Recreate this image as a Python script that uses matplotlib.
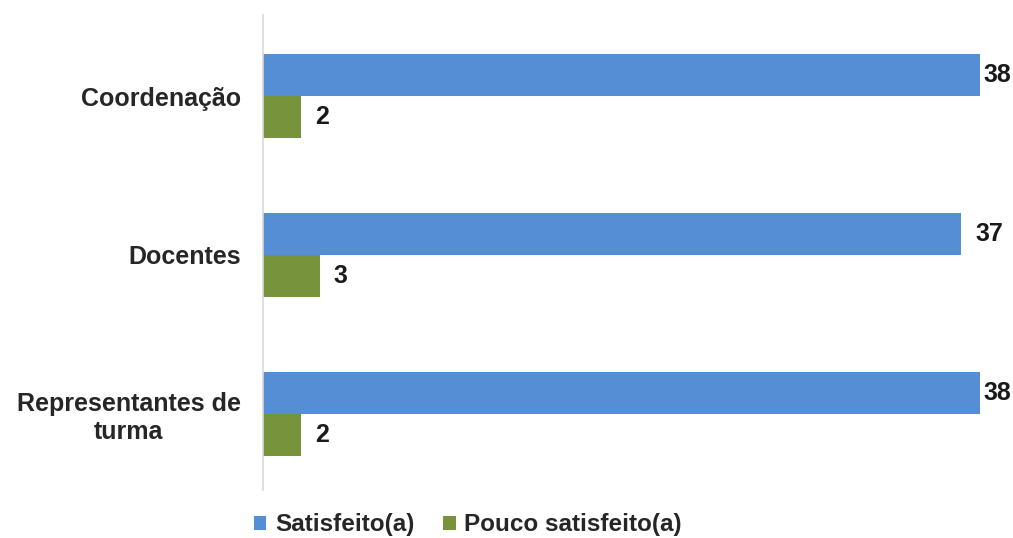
import matplotlib
matplotlib.use("Agg")
import matplotlib.pyplot as plt
import numpy as np

categorias = ["Coordenação", "Docentes", "Representantes de\nturma"]
satisfeito = [38, 37, 38]
pouco_satisfeito = [2, 3, 2]
series = ["Satisfeito(a)", "Pouco satisfeito(a)"]
cores = ["#558ed5", "#77933c"]

plt.rcParams["font.family"] = ["Liberation Sans", "DejaVu Sans"]

fig = plt.figure(figsize=(10.13, 5.38), dpi=100)
ax = fig.add_axes([263 / 1013, 1 - 490 / 538, 750 / 1013, 475 / 538])

y = np.arange(len(categorias))
h = 0.265
b1 = ax.barh(y - h / 2, satisfeito, height=h, color=cores[0], label=series[0])
b2 = ax.barh(y + h / 2, pouco_satisfeito, height=h, color=cores[1], label=series[1])

ax.set_xlim(0, 750 / 18.87)
ax.set_ylim(2.48, -0.51)
ax.set_xticks([])
ax.set_yticks(y)
ax.set_yticklabels(categorias, fontsize=18, fontweight="bold", color="#262626",
                   multialignment="center")
ax.tick_params(axis="y", length=0, pad=16)
for s in ["top", "right", "bottom"]:
    ax.spines[s].set_visible(False)
ax.spines["left"].set_color("#d9d9d9")
ax.spines["left"].set_linewidth(1.2)

# rótulos de valor à direita das barras, sem ultrapassar a borda da figura
fig.canvas.draw()
renderer = fig.canvas.get_renderer()
for bars, vals in [(b1, satisfeito), (b2, pouco_satisfeito)]:
    for bar, v in zip(bars, vals):
        t = ax.annotate(str(v), (bar.get_width(), bar.get_y() + bar.get_height() / 2),
                        xytext=(10, 0), textcoords="offset points", va="center", ha="left",
                        fontsize=18, fontweight="bold", color="#1a1a1a")
        bb = t.get_window_extent(renderer)
        if bb.x1 > fig.bbox.width - 2:
            shift = (bb.x1 - fig.bbox.width + 2) * 72 / fig.dpi
            t.xyann = (10 - shift, 0)

leg = fig.legend(handles=[b1, b2], loc="center", bbox_to_anchor=(468 / 1013, 1 - 525 / 538),
                 ncol=2, frameon=False, fontsize=17.5, handlelength=0.5, handleheight=0.5,
                 handletextpad=0.35, columnspacing=1.2, borderaxespad=0)
for txt in leg.get_texts():
    txt.set_fontweight("bold")
    txt.set_color("#262626")

fig.savefig("out.png", dpi=100)
